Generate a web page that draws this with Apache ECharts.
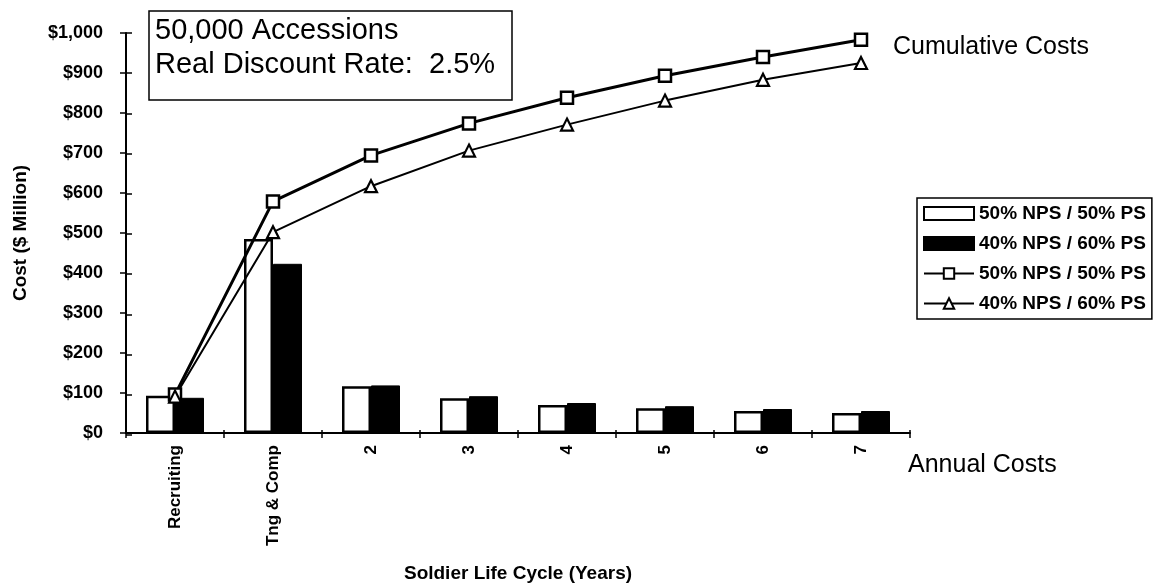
<!DOCTYPE html>
<html>
<head>
<meta charset="utf-8">
<title>Soldier Life Cycle Costs</title>
<script src="https://cdn.jsdelivr.net/npm/echarts@6/dist/echarts.min.js"></script>
<style>
  html, body { margin: 0; padding: 0; background: #fff; }
  #chart { width: 1157px; height: 588px; }
</style>
</head>
<body>
<div id="chart"></div>
<script>
// Life-cycle stages on the x axis
var categories = ['Recruiting', 'Tng & Comp', '2', '3', '4', '5', '6', '7'];

// Annual costs ($ million) per stage
var annual5050 = [93, 485, 117, 87, 70, 62, 55, 50];
var annual4060 = [88, 423, 119, 92, 75, 67, 60, 55];

// Cumulative costs ($ million) through each stage
var cumulative5050 = [96, 579, 694, 774, 838, 893, 940, 983];
var cumulative4060 = [91, 502, 617, 706, 771, 831, 883, 925];

// Cost axis tick labels
var yTickLabels = ['$0', '$100', '$200', '$300', '$400', '$500', '$600', '$700', '$800', '$900', '$1,000'];

var seriesNames = ['50% NPS / 50% PS', '40% NPS / 60% PS'];

var FONT = 'Liberation Sans, Arial, Helvetica, sans-serif';

var chart = echarts.init(document.getElementById('chart'), null, { renderer: 'canvas' });

// Two identical grids: the second carries only the inward half of the crossing ticks
var plotBox = { left: 126, right: 247, top: 33, bottom: 153 };

chart.setOption({
  animation: false,
  backgroundColor: '#fff',
  grid: [
    Object.assign({}, plotBox),
    Object.assign({}, plotBox)
  ],
  legend: {
    orient: 'vertical',
    left: 917,
    top: 198,
    padding: [6, 6, 6, 6],
    itemGap: 11,
    itemWidth: 50,
    itemHeight: 13,
    borderColor: '#000',
    borderWidth: 1.5,
    textStyle: { fontFamily: FONT, fontSize: 19, fontWeight: 'bold', color: '#000' },
    data: [
      { name: 'bar5050', icon: 'rect' },
      { name: 'bar4060', icon: 'rect' },
      { name: 'line5050' },
      { name: 'line4060' }
    ],
    formatter: function (name) {
      return name.indexOf('5050') >= 0 ? seriesNames[0] : seriesNames[1];
    }
  },
  xAxis: [
    {
      type: 'category',
      gridIndex: 0,
      data: categories,
      axisLine: { lineStyle: { color: '#000', width: 2 } },
      axisTick: { show: true, length: 5, lineStyle: { color: '#000', width: 1.5 } },
      axisLabel: {
        rotate: 90,
        margin: 12,
        color: '#000',
        fontFamily: FONT,
        fontSize: 17,
        fontWeight: 'bold'
      },
      name: 'Soldier Life Cycle (Years)',
      nameLocation: 'middle',
      nameGap: 131,
      nameTextStyle: { fontFamily: FONT, fontSize: 19, fontWeight: 'bold', color: '#000' }
    },
    {
      type: 'category',
      gridIndex: 1,
      data: categories,
      axisLine: { show: false },
      axisTick: { show: true, inside: true, length: 5, lineStyle: { color: '#000', width: 1.5 } },
      axisLabel: { show: false }
    }
  ],
  yAxis: [
    {
      type: 'value',
      gridIndex: 0,
      min: 0,
      max: 1000,
      interval: 100,
      splitLine: { show: false },
      axisLine: { show: true, lineStyle: { color: '#000', width: 2 } },
      axisTick: { show: true, length: 6, lineStyle: { color: '#000', width: 1.5 } },
      axisLabel: {
        margin: 23,
        color: '#000',
        fontFamily: FONT,
        fontSize: 18,
        fontWeight: 'bold',
        formatter: function (v) { return yTickLabels[Math.round(v / 100)]; }
      },
      name: 'Cost ($ Million)',
      nameLocation: 'middle',
      nameGap: 96,
      nameTextStyle: { fontFamily: FONT, fontSize: 19, fontWeight: 'bold', color: '#000' }
    },
    {
      type: 'value',
      gridIndex: 1,
      min: 0,
      max: 1000,
      interval: 100,
      splitLine: { show: false },
      axisLine: { show: false },
      axisTick: { show: true, inside: true, length: 6, lineStyle: { color: '#000', width: 1.5 } },
      axisLabel: { show: false }
    }
  ],
  series: [
    {
      name: 'bar5050',
      type: 'bar',
      data: annual5050,
      barWidth: 29,
      barGap: '0%',
      itemStyle: { color: '#fff', borderColor: '#000', borderWidth: 2.5 },
      z: 2
    },
    {
      name: 'bar4060',
      type: 'bar',
      data: annual4060,
      barWidth: 29,
      itemStyle: { color: '#000', borderColor: '#000', borderWidth: 1 },
      z: 2
    },
    {
      name: 'line5050',
      type: 'line',
      data: cumulative5050,
      symbol: 'rect',
      symbolSize: 12,
      lineStyle: { color: '#000', width: 3 },
      itemStyle: { color: '#fff', borderColor: '#000', borderWidth: 2.5 },
      z: 5
    },
    {
      name: 'line4060',
      type: 'line',
      data: cumulative4060,
      symbol: 'triangle',
      symbolSize: 12,
      lineStyle: { color: '#000', width: 2 },
      itemStyle: { color: '#fff', borderColor: '#000', borderWidth: 2.2 },
      z: 5
    }
  ],
  graphic: [
    {
      type: 'rect',
      shape: { x: 149, y: 11, width: 363, height: 89 },
      style: { fill: '#fff', stroke: '#000', lineWidth: 1.5 },
      z: 10
    },
    {
      type: 'text',
      x: 155,
      y: 31,
      style: {
        text: '50,000 Accessions',
        font: '29px ' + FONT,
        fill: '#000',
        textVerticalAlign: 'middle'
      },
      z: 11
    },
    {
      type: 'text',
      x: 155,
      y: 65,
      style: {
        text: 'Real Discount Rate:  2.5%',
        font: '29px ' + FONT,
        fill: '#000',
        textVerticalAlign: 'middle'
      },
      z: 11
    },
    {
      type: 'text',
      x: 893,
      y: 47,
      style: {
        text: 'Cumulative Costs',
        font: '25px ' + FONT,
        fill: '#000',
        textVerticalAlign: 'middle'
      }
    },
    {
      type: 'text',
      x: 908,
      y: 465,
      style: {
        text: 'Annual Costs',
        font: '25px ' + FONT,
        fill: '#000',
        textVerticalAlign: 'middle'
      }
    }
  ]
});
</script>
</body>
</html>
